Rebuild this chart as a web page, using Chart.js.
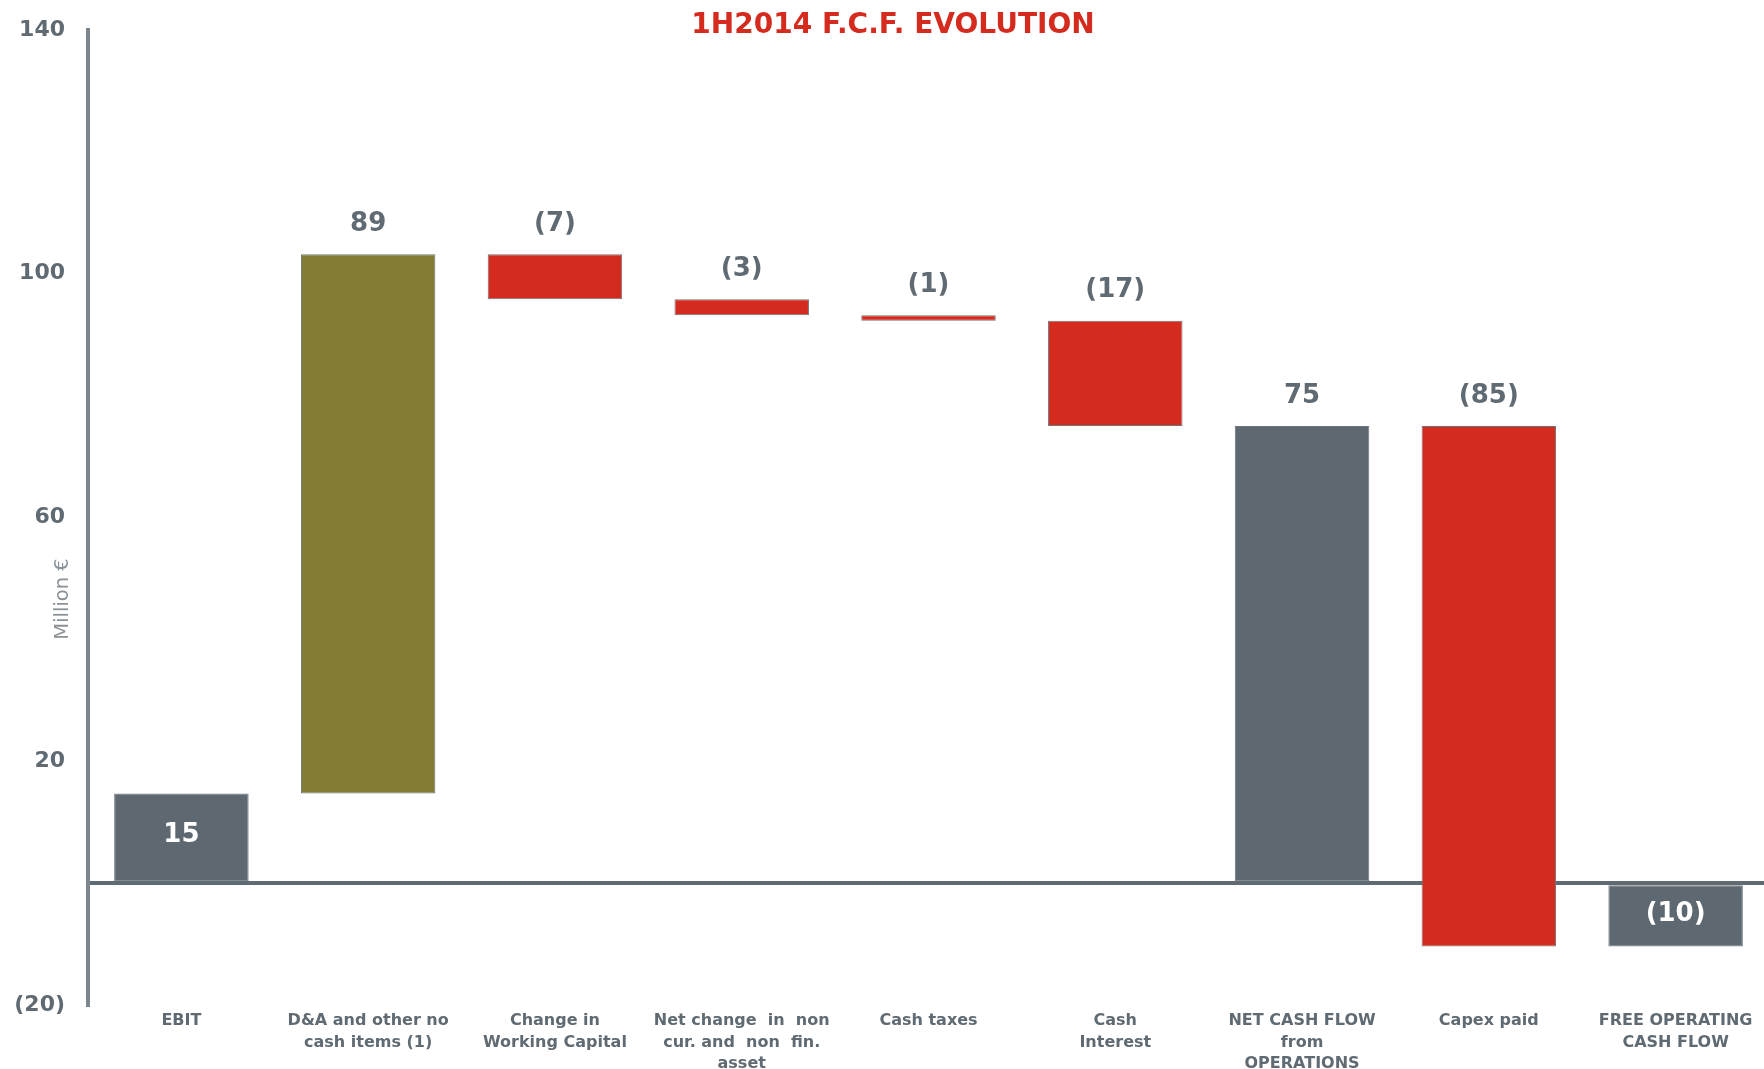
<!DOCTYPE html>
<html>
<head>
<meta charset="utf-8">
<title>1H2014 F.C.F. Evolution</title>
<script src="https://cdn.jsdelivr.net/npm/chart.js@4/dist/chart.umd.min.js"></script>
<style>
  html, body { margin: 0; padding: 0; background: #fff; overflow: hidden; }
  #wrap { width: 1764px; height: 1069px; overflow: hidden; }
  canvas { display: block; }
</style>
</head>
<body>
<div id="wrap"><canvas id="fcfChart" width="1769" height="1069"></canvas></div>
<script>
'use strict';

// ─── Data ─────────────────────────────────────────────────────────────────────
const categories = [
  'EBIT',
  ['D&A and other no', 'cash items (1)'],
  ['Change in', 'Working Capital'],
  ['Net change  in  non', 'cur. and  non  fin.', 'asset'],
  'Cash taxes',
  ['Cash', 'Interest'],
  ['NET CASH FLOW', 'from', 'OPERATIONS'],
  'Capex paid',
  ['FREE OPERATING', 'CASH FLOW'],
];

// Million €, one step per category
const steps    = [14.7, 88.5, -7.4, -2.6, -0.9, -17.3, 75.0, -85.4, -10.4];
// true = bar is a subtotal drawn from zero
const isTotal  = [true, false, false, false, false, false, true, false, true];

const yTicks   = [-20, 20, 60, 100, 140];

// ─── Style ────────────────────────────────────────────────────────────────────
const FONT      = "'DejaVu Sans', Verdana, sans-serif";
const GREY_BAR  = '#5d6870';
const OLIVE     = '#837c35';
const RED       = '#d52b1e';
const TEXT_GREY = '#5f6a72';
const AXIS_GREY = '#7d868d';

// ─── Waterfall ranges ─────────────────────────────────────────────────────────
function buildRanges() {
  let running = 0;
  return steps.map((v, i) => {
    if (isTotal[i]) {
      running = v;
      return [0, v];
    }
    const start = running;
    running += v;
    return [start, running];
  });
}

function barColour(i) {
  if (isTotal[i]) return GREY_BAR;
  return steps[i] >= 0 ? OLIVE : RED;
}

function fmtVal(v) {
  const r = Math.round(Math.abs(v));
  return v < 0 ? '(' + r + ')' : String(r);
}

// ─── Plugins ──────────────────────────────────────────────────────────────────
const valueLabels = {
  id: 'valueLabels',
  afterDatasetsDraw(chart) {
    const { ctx } = chart;
    const meta    = chart.getDatasetMeta(0);
    ctx.save();
    ctx.font         = 'bold 26px ' + FONT;
    ctx.textAlign    = 'center';
    ctx.textBaseline = 'middle';
    meta.data.forEach((bar, i) => {
      const top    = Math.min(bar.y, bar.base);
      const bottom = Math.max(bar.y, bar.base);
      // short subtotals carry their value inside the bar
      if (isTotal[i] && Math.abs(steps[i]) < 20) {
        ctx.fillStyle = '#ffffff';
        ctx.fillText(fmtVal(steps[i]), bar.x, (top + bottom) / 2 - 2);
      } else {
        ctx.fillStyle = TEXT_GREY;
        ctx.fillText(fmtVal(steps[i]), bar.x, top - 30);
      }
    });
    ctx.restore();
  },
};

const decorations = {
  id: 'decorations',
  afterDraw(chart) {
    const { ctx } = chart;
    ctx.save();
    ctx.font         = 'bold 28px ' + FONT;
    ctx.fillStyle    = RED;
    ctx.textAlign    = 'center';
    ctx.textBaseline = 'middle';
    ctx.fillText('1H2014 F.C.F. EVOLUTION', 893, 26);

    ctx.translate(63, 599);
    ctx.rotate(-Math.PI / 2);
    ctx.font      = '19.5px ' + FONT;
    ctx.fillStyle = '#8a9298';
    ctx.fillText('Million €', 0, 0);
    ctx.restore();
  },
};

// ─── Chart ────────────────────────────────────────────────────────────────────
new Chart(document.getElementById('fcfChart').getContext('2d'), {
  type: 'bar',
  data: {
    labels: categories,
    datasets: [{
      data:            buildRanges(),
      backgroundColor: steps.map((_, i) => barColour(i)),
      borderColor:     '#6b757c',
      borderWidth:     1,
      borderSkipped:   false,
      barPercentage:      0.72,
      categoryPercentage: 1.0,
    }],
  },
  options: {
    responsive: false,
    animation:  false,
    layout: { padding: { top: 30, left: 0, right: 0, bottom: 0 } },
    plugins: {
      legend:  { display: false },
      title:   { display: false },
      tooltip: { enabled: false },
    },
    scales: {
      x: {
        grid:   { display: false },
        border: { display: false },
        ticks: {
          autoSkip:    false,
          maxRotation: 0,
          padding:     -3,
          color:       TEXT_GREY,
          font:        { family: FONT, size: 16, weight: 'bold', lineHeight: 1.35 },
        },
        afterFit(scale) { scale.height = 64; },
      },
      y: {
        min: yTicks[0],
        max: yTicks[yTicks.length - 1],
        z:   1,
        grid: {
          drawTicks:  true,
          tickLength: 20,
          tickColor:  'rgba(0,0,0,0)',
          lineWidth:  4,
          color: (c) => (c.tick && c.tick.value === 0 ? TEXT_GREY : 'rgba(0,0,0,0)'),
        },
        border: { display: true, color: AXIS_GREY, width: 4 },
        afterBuildTicks(scale) {
          scale.ticks = yTicks.concat(0).sort((a, b) => a - b).map((v) => ({ value: v }));
        },
        ticks: {
          padding:  3,
          color:    TEXT_GREY,
          font:     { family: FONT, size: 22, weight: 'bold' },
          callback: (v) => (v === 0 ? '' : v < 0 ? '(' + -v + ')' : String(v)),
        },
        afterFit(scale) { scale.width = 88; },
      },
    },
  },
  plugins: [valueLabels, decorations],
});
</script>
</body>
</html>
